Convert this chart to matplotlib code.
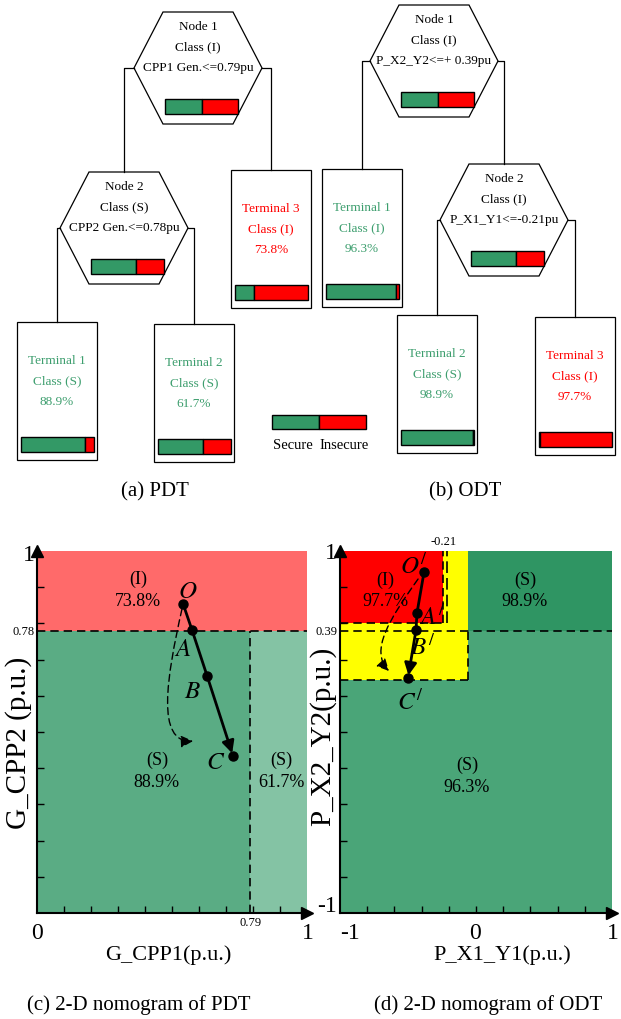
import matplotlib
matplotlib.use('Agg')
import matplotlib.pyplot as plt
from matplotlib.patches import Polygon, Rectangle, FancyArrowPatch
from matplotlib.path import Path

plt.rcParams['font.family'] = 'Liberation Serif'
plt.rcParams['mathtext.fontset'] = 'stix'

GREEN = '#339966'
RED = '#ff0000'
GTEXT = '#3d9e6e'

# ---------------- decision tree data ----------------
pdt_node_text = [['Node 1', 'Class (I)', 'CPP1 Gen.<=0.79pu'],
                 ['Node 2', 'Class (S)', 'CPP2 Gen.<=0.78pu']]
pdt_node_secure = [0.50, 0.62]
pdt_term_names = ['Terminal 1', 'Terminal 2', 'Terminal 3']
pdt_term_class = ['Class (S)', 'Class (S)', 'Class (I)']
pdt_term_pct = ['88.9%', '61.7%', '73.8%']
pdt_term_secure = [0.889, 0.617, 0.262]

odt_node_text = [['Node 1', 'Class (I)', 'P_X2_Y2<=+ 0.39pu'],
                 ['Node 2', 'Class (I)', 'P_X1_Y1<=-0.21pu']]
odt_node_secure = [0.50, 0.62]
odt_term_names = ['Terminal 1', 'Terminal 2', 'Terminal 3']
odt_term_class = ['Class (I)', 'Class (S)', 'Class (I)']
odt_term_pct = ['96.3%', '98.9%', '97.7%']
odt_term_secure = [0.963, 0.989, 0.023]

legend_labels = ['Secure', 'Insecure']

# ---------------- nomogram data ----------------
pdt_x_split = 0.79
pdt_y_split = 0.78
pdt_path_names = ['O', 'A', 'B', 'C']
pdt_path_x = [0.541, 0.574, 0.630, 0.726]
pdt_path_y = [0.854, 0.782, 0.655, 0.434]
pdt_regions = ['(I)\n73.8%', '(S)\n88.9%', '(S)\n61.7%']

odt_x_split = -0.21
odt_y_split_label = '0.39'
odt_y_split_pos = 0.56      # where the (not to scale) figure draws the 0.39 split
odt_red_box = (-0.24, 0.60)     # right / bottom edge of red region
odt_yellow_box = (-0.06, 0.29)  # right / bottom edge of yellow region
odt_path_names = ['O', 'A', 'B', 'C']
odt_path_x = [-0.382, -0.434, -0.441, -0.500]
odt_path_y = [0.884, 0.657, 0.564, 0.298]
odt_regions = ['(I)\n97.7%', '(S)\n98.9%', '(S)\n96.3%']

fig = plt.figure(figsize=(6.21, 10.2), dpi=100)
ax0 = fig.add_axes([0, 0, 1, 1])
ax0.set_xlim(0, 621)
ax0.set_ylim(1020, 0)
ax0.axis('off')


def bar(ax, x, y, w, h, secure):
    ax.add_patch(Rectangle((x, y), w * secure, h, fc=GREEN, ec='k', lw=1))
    ax.add_patch(Rectangle((x + w * secure, y), w * (1 - secure), h, fc=RED, ec='k', lw=1))


def hexagon(ax, cx, cy, lines, secure):
    hw, tw, hh = 64, 35, 56
    pts = [(cx - tw, cy - hh), (cx + tw, cy - hh), (cx + hw, cy),
           (cx + tw, cy + hh), (cx - tw, cy + hh), (cx - hw, cy)]
    ax.add_patch(Polygon(pts, closed=True, fc='white', ec='k', lw=0.9))
    for i, s in enumerate(lines):
        ax.text(cx, cy - 42 + 20.5 * i, s, ha='center', va='center', fontsize=9.5)
    bar(ax, cx - 33, cy + 31, 73, 15, secure)


def terminal(ax, x, y, lines, secure):
    color = GTEXT if secure > 0.5 else RED
    ax.add_patch(Rectangle((x, y), 80, 138, fc='white', ec='k', lw=0.9))
    for i, s in enumerate(lines):
        ax.text(x + 40, y + 38 + 20.5 * i, s, ha='center', va='center',
                fontsize=9.5, color=color)
    bar(ax, x + 3.5, y + 115, 73, 15, secure)


def connect(ax, vx, vy, cx, top):
    ax.plot([vx, cx, cx], [vy, vy, top], color='k', lw=0.9)


def tree(ax, node_c, term_xy, node_text, node_sec, names, cls, pct, term_sec, links):
    for (cx, cy), txt, s in zip(node_c, node_text, node_sec):
        hexagon(ax, cx, cy, txt, s)
    for (x, y), n, c, p, s in zip(term_xy, names, cls, pct, term_sec):
        terminal(ax, x, y, [n, c, p], s)
    for ni, side, kind, k in links:
        cx, cy = node_c[ni]
        vx = cx - 64 if side == 'L' else cx + 64
        if kind == 'node':
            ccx, ctop = node_c[k][0], node_c[k][1] - 56
        else:
            ccx, ctop = term_xy[k][0] + 40, term_xy[k][1]
        connect(ax, vx, cy, ccx, ctop)


tree(ax0, [(198, 69), (124, 229)], [(17, 323), (154, 325), (231, 171)],
     pdt_node_text, pdt_node_secure, pdt_term_names, pdt_term_class, pdt_term_pct,
     pdt_term_secure,
     [(0, 'L', 'node', 1), (0, 'R', 'term', 2), (1, 'L', 'term', 0), (1, 'R', 'term', 1)])
tree(ax0, [(434, 62), (504, 221)], [(322, 170), (397, 316), (535, 318)],
     odt_node_text, odt_node_secure, odt_term_names, odt_term_class, odt_term_pct,
     odt_term_secure,
     [(0, 'L', 'term', 0), (0, 'R', 'node', 1), (1, 'L', 'term', 1), (1, 'R', 'term', 2)])

# legend
bar(ax0, 272, 416, 94, 14, 0.5)
ax0.text(293, 446, legend_labels[0], ha='center', va='center', fontsize=10.5)
ax0.text(344, 446, legend_labels[1], ha='center', va='center', fontsize=10.5)

# captions
ax0.text(155, 492, '(a) PDT', ha='center', va='center', fontsize=15)
ax0.text(465, 492, '(b) ODT', ha='center', va='center', fontsize=15)
ax0.text(139, 1005, '(c) 2-D nomogram of PDT', ha='center', va='center', fontsize=15)
ax0.text(488, 1005, '(d) 2-D nomogram of ODT', ha='center', va='center', fontsize=15)


def style_axes(ax, ticks):
    for s in ['top', 'right']:
        ax.spines[s].set_visible(False)
    for s in ['left', 'bottom']:
        ax.spines[s].set_linewidth(1.5)
        ax.spines[s].set_zorder(6)
    ax.set_xticks(ticks)
    ax.set_yticks(ticks)
    ax.tick_params(direction='in', length=5, width=1, labelbottom=False,
                   labelleft=False, zorder=6)
    ax.plot(1, 0, marker='>', color='k', ms=9, transform=ax.transAxes, clip_on=False, zorder=7)
    ax.plot(0, 1, marker='^', color='k', ms=9, transform=ax.transAxes, clip_on=False, zorder=7)
    ax.patch.set_alpha(0)


def dashed_curve(ax, pts):
    path = Path(pts, [Path.MOVETO, Path.CURVE4, Path.CURVE4, Path.CURVE4])
    ax.add_patch(FancyArrowPatch(path=path, arrowstyle='-|>', mutation_scale=18,
                                 color='k', lw=1.0, linestyle=(0, (5, 3)), zorder=5))


# ---------------- (c) nomogram of PDT ----------------
axc = fig.add_axes([37 / 621, 106 / 1020, 270 / 621, 362 / 1020])
axc.set_xlim(0, 1)
axc.set_ylim(0, 1)
axc.fill_between([0, 1], pdt_y_split, 1, color='#ff6a6a', lw=0)
axc.fill_between([0, pdt_x_split], 0, pdt_y_split, color='#5aac84', lw=0)
axc.fill_between([pdt_x_split, 1], 0, pdt_y_split, color='#84c3a4', lw=0)
axc.plot([0, 1], [pdt_y_split] * 2, color='k', lw=1.2, dashes=(5, 3))
axc.plot([pdt_x_split] * 2, [0, pdt_y_split], color='k', lw=1.2, dashes=(5, 3))
style_axes(axc, [0.1, 0.2, 0.3, 0.4, 0.5, 0.6, 0.7, 0.8, 0.9])

axc.plot(pdt_path_x[:3], pdt_path_y[:3], color='k', lw=2, zorder=5)
axc.annotate('', xy=(pdt_path_x[3], pdt_path_y[3]), xytext=(pdt_path_x[2], pdt_path_y[2]),
             arrowprops=dict(arrowstyle='-|>', lw=2, color='k', mutation_scale=18,
                             shrinkA=0, shrinkB=2), zorder=5)
axc.plot(pdt_path_x, pdt_path_y, 'o', color='k', ms=6.5, zorder=6)
dashed_curve(axc, [(0.537, 0.84), (0.48, 0.65), (0.44, 0.47), (0.578, 0.475)])
for i, (dx, dy) in enumerate([(0.018, 0.036), (-0.033, -0.053), (-0.056, -0.042), (-0.063, -0.017)]):
    axc.text(pdt_path_x[i] + dx, pdt_path_y[i] + dy, '$%s$' % pdt_path_names[i], fontsize=18,
             ha='center', va='center', zorder=6)

for txt, (x, y) in zip(pdt_regions, [(0.374, 0.894), (0.444, 0.394), (0.904, 0.394)]):
    axc.text(x, y, txt, ha='center', va='center', fontsize=13, linespacing=1.35)

axc.text(0, -0.025, '0', ha='center', va='top', fontsize=17)
axc.text(1.005, -0.025, '1', ha='center', va='top', fontsize=17)
axc.text(pdt_x_split, -0.008, '0.79', ha='center', va='top', fontsize=9)
axc.text(-0.01, 0.99, '1', ha='right', va='center', fontsize=17)
axc.text(-0.01, pdt_y_split, '0.78', ha='right', va='center', fontsize=9)
axc.text(0.485, -0.113, 'G_CPP1(p.u.)', ha='center', va='center', fontsize=16,
         transform=axc.transAxes)
axc.text(-0.07, 0.472, 'G_CPP2 (p.u.)', ha='center', va='center', fontsize=21,
         rotation=90, transform=axc.transAxes)

# ---------------- (d) nomogram of ODT ----------------
axd = fig.add_axes([340 / 621, 106 / 1020, 272 / 621, 362 / 1020])
axd.set_xlim(-1, 1)
axd.set_ylim(-1, 1)
axd.fill_between([-1, 1], -1, odt_y_split_pos, color='#4aa578', lw=0)
axd.fill_between([-1, 1], odt_y_split_pos, 1, color='#2f9563', lw=0)
axd.fill_between([-1, odt_yellow_box[0]], odt_yellow_box[1], 1, color='#ffff00', lw=0)
axd.fill_between([-1, odt_red_box[0]], odt_red_box[1], 1, color='#ff0000', lw=0)
dash = dict(color='k', lw=1.2, dashes=(5, 3))
axd.plot([-1, 1], [odt_y_split_pos] * 2, **dash)
axd.plot([odt_red_box[0]] * 2, [odt_red_box[1], 1], **dash)
axd.plot([-1, odt_red_box[0]], [odt_red_box[1]] * 2, **dash)
axd.plot([odt_x_split] * 2, [odt_red_box[1], 1], color='k', lw=1.2, dashes=(7, 3))
axd.plot([-1, odt_yellow_box[0]], [odt_yellow_box[1]] * 2, **dash)
axd.plot([odt_yellow_box[0]] * 2, [odt_yellow_box[1], odt_y_split_pos], **dash)
style_axes(axd, [-0.8, -0.6, -0.4, -0.2, 0, 0.2, 0.4, 0.6, 0.8])

axd.plot(odt_path_x[:3], odt_path_y[:3], color='k', lw=2, zorder=5)
axd.annotate('', xy=(odt_path_x[3], odt_path_y[3]), xytext=(odt_path_x[2], odt_path_y[2]),
             arrowprops=dict(arrowstyle='-|>', lw=2, color='k', mutation_scale=18,
                             shrinkA=0, shrinkB=2), zorder=5)
axd.plot(odt_path_x, odt_path_y, 'o', color='k', ms=6.5, zorder=6)
dashed_curve(axd, [(-0.426, 0.845), (-0.64, 0.62), (-0.78, 0.45), (-0.64, 0.337)])
for i, (dx, dy) in enumerate([(-0.075, 0.035), (0.11, -0.02), (0.05, -0.09), (0.015, -0.13)]):
    axd.text(odt_path_x[i] + dx, odt_path_y[i] + dy, '$%s^{/}$' % odt_path_names[i],
             fontsize=18, ha='center', va='center', zorder=6)

for txt, (x, y) in zip(odt_regions, [(-0.665, 0.785), (0.36, 0.785), (-0.066, -0.24)]):
    axd.text(x, y, txt, ha='center', va='center', fontsize=13, linespacing=1.35)

axd.text(-0.93, -1.05, '-1', ha='center', va='top', fontsize=17)
axd.text(-0.01, -1.05, '0', ha='center', va='top', fontsize=17)
axd.text(1.005, -1.05, '1', ha='center', va='top', fontsize=17)
axd.text(-1.02, 0.99, '1', ha='right', va='center', fontsize=17)
axd.text(-1.02, odt_y_split_pos, odt_y_split_label, ha='right', va='center', fontsize=9)
axd.text(-1.02, -0.96, '-1', ha='right', va='center', fontsize=17)
axd.text(-0.24, 1.02, '-0.21', ha='center', va='bottom', fontsize=9)
axd.text(0.595, -0.113, 'P_X1_Y1(p.u.)', ha='center', va='center', fontsize=16,
         transform=axd.transAxes)
axd.text(-0.062, 0.49, 'P_X2_Y2(p.u.)', ha='center', va='center', fontsize=21,
         rotation=90, transform=axd.transAxes)

fig.savefig('out.png', dpi=100, facecolor='white')
